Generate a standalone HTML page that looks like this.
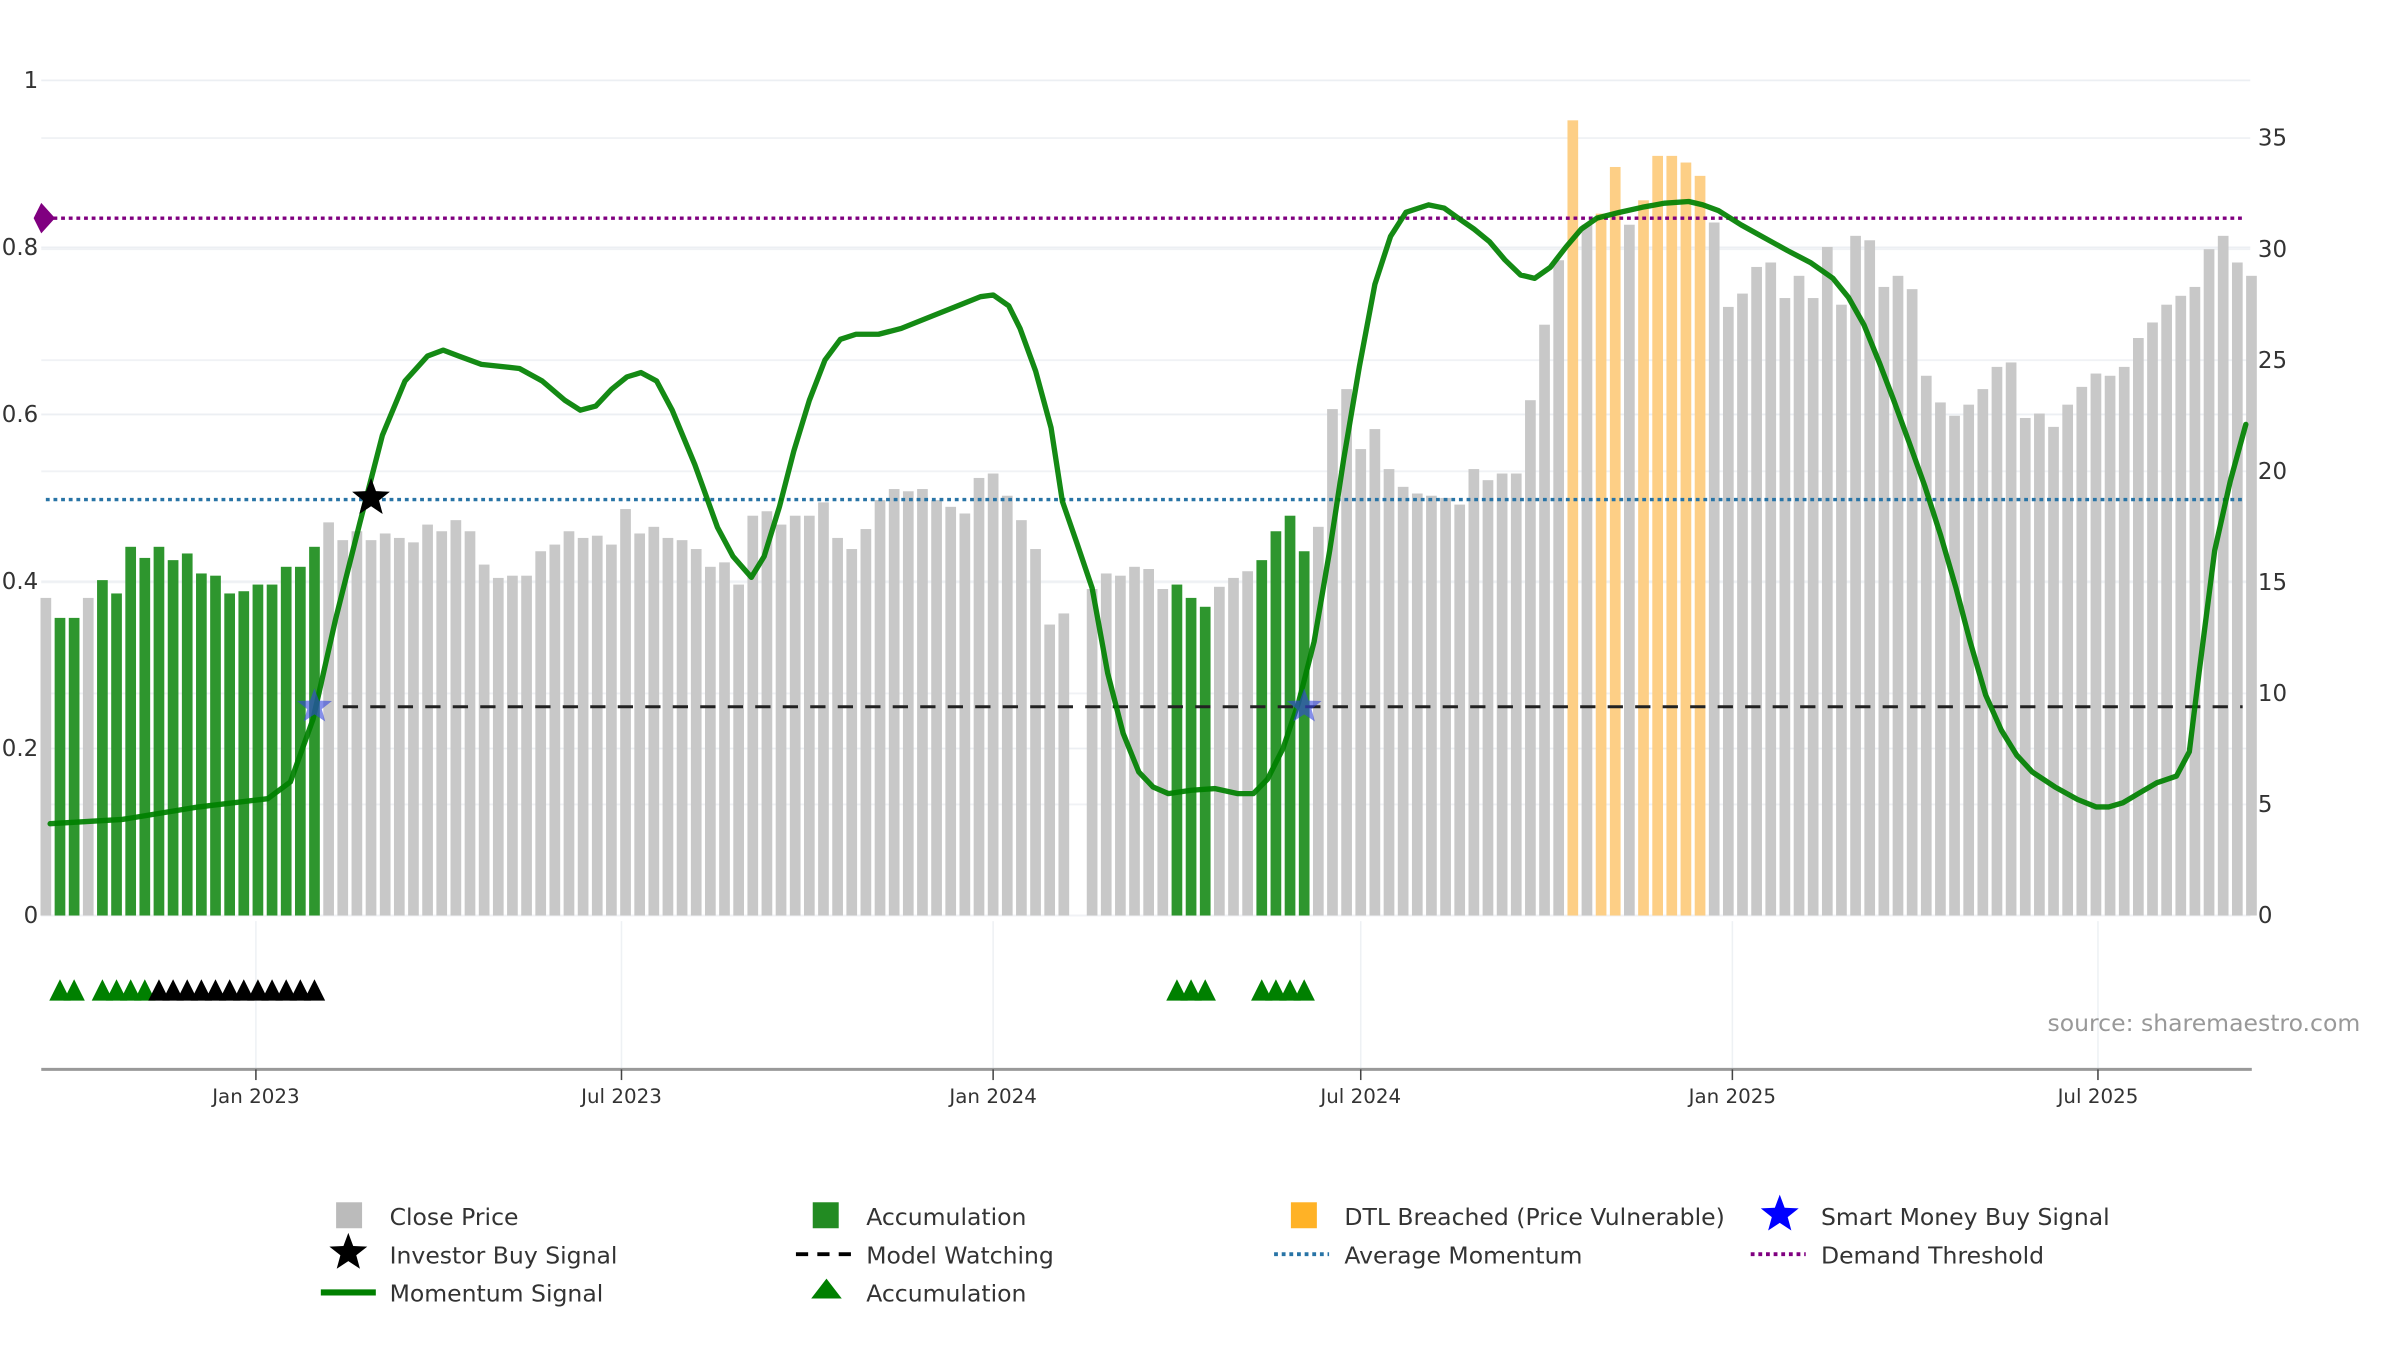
<!DOCTYPE html>
<html><head><meta charset="utf-8"><style>
html,body{margin:0;padding:0;background:#fff;}
svg{display:block;font-family:"DejaVu Sans","Liberation Sans",sans-serif;}
</style></head><body>
<svg id="chart" width="2400" height="1350" viewBox="0 0 1571 883.7" xmlns="http://www.w3.org/2000/svg">
<g id="grid"></g>
<g id="bars"></g>
<g id="lines"></g>
<g id="mom"></g>
<g id="marks"></g>
<g id="axes"></g>
<text x="1545" y="675" text-anchor="end" font-size="15.4" fill="#999">source: sharemaestro.com</text>
<g id="legend" font-size="15.4" fill="#333">
 <g><rect x="220" y="787" width="17" height="17" fill="#bbb"/><text x="255" y="802">Close Price</text></g>
 <g><rect x="532" y="787" width="17" height="17" fill="#228b22"/><text x="567" y="802">Accumulation</text></g>
 <g><rect x="845" y="787" width="17" height="17" fill="#ffa500" opacity="0.85"/><text x="880" y="802">DTL Breached (Price Vulnerable)</text></g>
 <g><polygon id="lgstar1" fill="#0000ff"/><text x="1192" y="802">Smart Money Buy Signal</text></g>
 <g><polygon id="lgstar2" fill="#000"/><text x="255" y="827">Investor Buy Signal</text></g>
 <g><line x1="521" y1="821" x2="557" y2="821" stroke="#000" stroke-width="2.5" stroke-dasharray="8,6"/><text x="567" y="827">Model Watching</text></g>
 <g><line x1="834" y1="821" x2="870" y2="821" stroke="#2874a6" stroke-width="2.5" stroke-dasharray="2.5,2.5"/><text x="880" y="827">Average Momentum</text></g>
 <g><line x1="1146" y1="821" x2="1182" y2="821" stroke="#800080" stroke-width="2.5" stroke-dasharray="2.5,2.5"/><text x="1192" y="827">Demand Threshold</text></g>
 <g><line x1="210" y1="846" x2="246" y2="846" stroke="#008000" stroke-width="4"/><text x="255" y="852">Momentum Signal</text></g>
 <g><polygon points="541,837 531,850 551,850" fill="#008000"/><text x="567" y="852">Accumulation</text></g>
</g>
</svg>
<script>
const closePrices=[14.3,13.4,13.4,14.3,15.1,14.5,16.6,16.1,16.6,16.0,16.3,15.4,15.3,14.5,14.6,14.9,14.9,15.7,15.7,16.6,
17.7,16.9,17.3,16.9,17.2,17.0,16.8,17.6,17.3,17.8,17.3,15.8,15.2,15.3,15.3,16.4,16.7,17.3,17.0,17.1,16.7,18.3,17.2,17.5,17.0,16.9,16.5,15.7,15.9,14.9,
18.0,18.2,17.6,18.0,18.0,18.6,17.0,16.5,17.4,18.7,19.2,19.1,19.2,18.7,18.4,18.1,19.7,19.9,18.9,17.8,16.5,13.1,13.6,
null,14.7,15.4,15.3,15.7,15.6,14.7,14.9,14.3,13.9,14.8,15.2,15.5,16.0,17.3,18.0,16.4,17.5,22.8,23.7,21.0,21.9,20.1,19.3,19.0,18.9,18.8,18.5,20.1,19.6,19.9,19.9,23.2,26.6,29.5,
35.8,31.1,31.6,33.7,31.1,32.2,34.2,34.2,33.9,33.3,31.2,27.4,28.0,29.2,29.4,27.8,28.8,27.8,30.1,27.5,30.6,30.4,28.3,28.8,28.2,24.3,23.1,22.5,23.0,23.7,24.7,24.9,22.4,22.6,22.0,23.0,23.8,24.4,24.3,24.7,26.0,26.7,27.5,27.9,28.3,30.0,30.6,29.4,28.8];
const accumulationWeeks=[1,2,4,5,6,7,8,9,10,11,12,13,14,15,16,17,18,19,80,81,82,86,87,88,89];
const dtlWeeks=[108,110,111,113,114,115,116,117];
const momWeek=[0.3,5.4,10.8,15.7,17.3,18.9,20.5,22.2,23.8,25.4,27.0,28.1,29.2,30.8,33.5,35.1,36.7,37.8,38.9,40.0,41.1,42.1,43.2,44.3,45.9,47.5,48.6,49.9,50.8,51.9,52.9,54.0,55.1,56.2,57.3,58.9,60.5,62.7,64.8,66.1,67.0,68.1,68.9,70.0,71.1,71.9,72.9,74.0,75.1,76.2,77.3,78.3,79.4,81.0,82.7,84.3,85.4,86.4,87.5,88.6,89.7,90.8,91.8,92.9,94.0,95.1,96.2,97.8,98.9,99.9,101.0,102.1,103.2,104.3,105.3,106.4,107.5,108.6,109.7,111.3,112.9,114.5,116.2,117.2,118.3,119.9,121.6,123.2,124.8,126.4,127.5,128.6,129.7,130.7,131.8,132.9,134.0,135.1,136.1,137.2,138.3,139.4,140.5,142.1,143.7,145.0,145.9,146.9,148.0,149.3,150.7,151.6,152.3,153.4,154.5,155.6];
const momValue=[0.11,0.115,0.13,0.14,0.16,0.235,0.355,0.47,0.575,0.64,0.67,0.677,0.67,0.66,0.655,0.64,0.617,0.605,0.61,0.63,0.645,0.65,0.64,0.605,0.54,0.465,0.43,0.405,0.43,0.49,0.556,0.617,0.665,0.69,0.696,0.696,0.703,0.718,0.732,0.741,0.743,0.73,0.703,0.652,0.584,0.496,0.447,0.392,0.29,0.218,0.172,0.154,0.146,0.15,0.152,0.146,0.146,0.163,0.2,0.255,0.328,0.437,0.547,0.657,0.756,0.813,0.842,0.851,0.847,0.835,0.822,0.807,0.785,0.767,0.763,0.776,0.8,0.822,0.835,0.842,0.848,0.853,0.855,0.851,0.844,0.827,0.811,0.796,0.782,0.763,0.74,0.707,0.661,0.617,0.566,0.514,0.456,0.392,0.328,0.264,0.222,0.192,0.172,0.154,0.139,0.13,0.13,0.135,0.146,0.159,0.167,0.196,0.291,0.437,0.52,0.588];
const demandThreshold=0.835, averageMomentum=0.498, modelWatching=0.25;
const investorBuyWeeks=[23], investorBuyValues=[0.5];
const smartMoneyWeeks=[19,89], smartMoneyValues=[0.25,0.25];
const greenTriWeeks=[1,2,4,5,6,7,80,81,82,86,87,88,89];
const blackTriWeeks=[8,9,10,11,12,13,14,15,16,17,18,19];
const leftTicks=[0,0.2,0.4,0.6,0.8,1], leftTickLabels=["0","0.2","0.4","0.6","0.8","1"];
const rightTicks=[0,5,10,15,20,25,30,35];
const dateTicks=["2023-01-01","2023-07-01","2024-01-01","2024-07-01","2025-01-01","2025-07-01"];
const dateTickLabels=["Jan 2023","Jul 2023","Jan 2024","Jul 2024","Jan 2025","Jul 2025"];
const startDate="2022-09-19";

const NS="http://www.w3.org/2000/svg";
const X0=30, STEP=9.255, PL=27, PR=1473;
const xW=w=>X0+w*STEP;
const yL=v=>599.3-v*546.7;
const yR=v=>599.3-v*14.54;
const xDate=d=>xW((new Date(d)-new Date(startDate))/604800000);
function mk(tag,attrs,parent){const e=document.createElementNS(NS,tag);for(const k in attrs)e.setAttribute(k,attrs[k]);parent.appendChild(e);return e;}
function starPts(cx,cy,R,r){let p=[];for(let i=0;i<10;i++){const a=-Math.PI/2+i*Math.PI/5,rr=i%2?r:R;p.push((cx+rr*Math.cos(a)).toFixed(1)+","+(cy+rr*Math.sin(a)).toFixed(1));}return p.join(" ");}
const G=id=>document.getElementById(id);

leftTicks.forEach(t=>{const l=mk('line',{x1:PL,x2:PR,y1:yL(t),y2:yL(t),stroke:'#eceff3','stroke-width':1.2},G('grid'));

});
rightTicks.forEach(t=>{const l=mk('line',{x1:PL,x2:PR,y1:yR(t),y2:yR(t),stroke:'#f0f2f5','stroke-width':1.2},G('grid'));

});
dateTicks.forEach(d=>{const l=mk('line',{x1:xDate(d),x2:xDate(d),y1:603,y2:700,stroke:'#eef1f4','stroke-width':1},G('grid'));

});

closePrices.forEach((v,i)=>{if(v==null)return;
 let c='#c8c8c8',n='bar-close-price';
 if(accumulationWeeks.includes(i)){c='#2e962e';n='bar-accumulation';}
 if(dtlWeeks.includes(i)){c='#fdcf86';n='bar-dtl-breached';}
 const b=mk('rect',{x:xW(i)-3.5,y:yR(v),width:7,height:yR(0)-yR(v),fill:c},G('bars'));
 
 });

let l1=mk('line',{x1:xW(0),x2:PR-5,y1:yL(demandThreshold),y2:yL(demandThreshold),stroke:'#800080','stroke-width':2.2,'stroke-dasharray':'2.5,2.5'},G('lines'));


let l2=mk('line',{x1:xW(0),x2:PR-5,y1:yL(averageMomentum),y2:yL(averageMomentum),stroke:'#2874a6','stroke-width':2.2,'stroke-dasharray':'2.5,2.5'},G('lines'));


let l3=mk('line',{x1:xW(21),x2:PR-5,y1:yL(modelWatching),y2:yL(modelWatching),stroke:'#222','stroke-width':2,'stroke-dasharray':'10,8'},G('lines'));


let dm=mk('polygon',{points:[xW(0)-3+','+(yL(demandThreshold)-10),xW(0)+6+','+yL(demandThreshold),xW(0)-3+','+(yL(demandThreshold)+10),xW(0)-8+','+yL(demandThreshold)].join(' '),fill:'#800080'},G('lines'));



const pts=momWeek.map((w,i)=>xW(w).toFixed(1)+','+yL(momValue[i]).toFixed(1)).join(' ');
let ml=mk('polyline',{points:pts,fill:'none',stroke:'#008000','stroke-width':3.5,'stroke-linejoin':'round','stroke-linecap':'round','stroke-opacity':0.92},G('mom'));



investorBuyWeeks.forEach((w,i)=>{const s=mk('polygon',{points:starPts(xW(w),yL(investorBuyValues[i]),13,5.5),fill:'#000'},G('marks'));

});
smartMoneyWeeks.forEach((w,i)=>{const s=mk('polygon',{points:starPts(xW(w),yL(smartMoneyValues[i]),12,5),fill:'#3344dd','fill-opacity':0.6},G('marks'));

});
function tri(w,c,name){const x=xW(w),y=648;const t=mk('polygon',{points:`${x},${y-7} ${x-7},${y+7} ${x+7},${y+7}`,fill:c},G('marks'));

}
greenTriWeeks.forEach(w=>tri(w,'#008000','accumulation-triangle'));
blackTriWeeks.forEach(w=>tri(w,'#000','black-triangle'));

let ax=mk('line',{x1:PL,x2:PR+1,y1:700,y2:700,stroke:'#999','stroke-width':2},G('axes'));


dateTicks.forEach((d,i)=>{const x=xDate(d);
 const tk=mk('line',{x1:x,x2:x,y1:700,y2:707,stroke:'#444','stroke-width':1},G('axes'));
 
 
 const t=mk('text',{x:x,y:722,'text-anchor':'middle','font-size':13,fill:'#333'},G('axes'));t.textContent=dateTickLabels[i];
 
 });
leftTicks.forEach((v,i)=>{const t=mk('text',{x:25,y:yL(v)+5,'text-anchor':'end','font-size':15,fill:'#333'},G('axes'));t.textContent=leftTickLabels[i];
 
 });
rightTicks.forEach(v=>{const t=mk('text',{x:1478,y:yR(v)+5,'font-size':15,fill:'#333'},G('axes'));t.textContent=String(v);
 
 });
G('lgstar1').setAttribute('points',starPts(1165,795,13,5.5));
G('lgstar2').setAttribute('points',starPts(228,820,13,5.5));
</script>
</body></html>
